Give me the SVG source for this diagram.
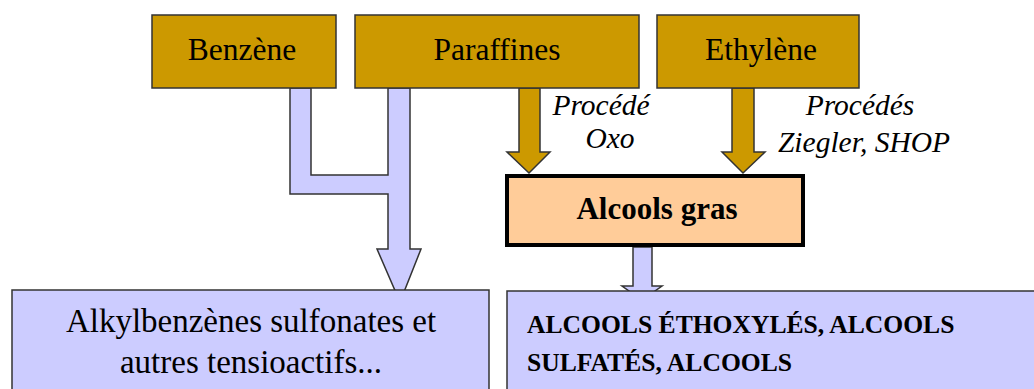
<svg xmlns="http://www.w3.org/2000/svg" width="1034" height="389" viewBox="0 0 1034 389" font-family="Liberation Serif, Times New Roman, serif">
<style>
.src{fill:#CC9900;stroke:#333;stroke-width:1.5}
.blue{fill:#CCCCFF;stroke:#333;stroke-width:1.5}
.t{fill:#000}
.r{font-size:31.5px;text-anchor:middle}
.i{font-size:29.5px;font-style:italic;text-anchor:middle}
.b{font-weight:bold}
</style>
<rect width="1034" height="389" fill="#fff"/>
<g id="connectors">
<path class="blue" d="M290,88 L311,88 L311,175 L388,175 L388,88 L410,88 L410,249 L421,249 L400,302 L377,249 L388,249 L388,194 L290,194 Z"/>
<path class="src" d="M519,88 L540,88 L540,152 L550,152 L529,173 L507,152 L519,152 Z"/>
<path class="src" d="M732,88 L754,88 L754,152 L765,152 L743,173 L722,152 L732,152 Z"/>
<path class="blue" d="M633,247 L652,247 L652,286 L662,286 L642,300 L622,286 L633,286 Z"/>
</g>
<g id="benzene"><rect class="src" x="152" y="15" width="184" height="73"/><text class="t r" x="242" y="60">Benzène</text></g>
<g id="paraffines"><rect class="src" x="355" y="15" width="284" height="73"/><text class="t r" x="497" y="60">Paraffines</text></g>
<g id="ethylene"><rect class="src" x="657" y="15" width="202" height="73"/><text class="t r" x="761" y="60">Ethylène</text></g>
<g id="label-oxo"><text class="t i" x="601" y="115">Procédé</text><text class="t i" x="610" y="148">Oxo</text></g>
<g id="label-ziegler"><text class="t i" x="860" y="115">Procédés</text><text class="t i" x="864" y="152">Ziegler, SHOP</text></g>
<g id="alcools-gras"><rect x="507" y="176" width="296" height="69" fill="#FFCC99" stroke="#000" stroke-width="4"/><text class="t b" x="657" y="219" font-size="31" text-anchor="middle">Alcools gras</text></g>
<g id="alkylbenzenes"><rect class="blue" x="12" y="290" width="477" height="110"/><text class="t" x="251" y="332" font-size="33" text-anchor="middle">Alkylbenzènes sulfonates et</text><text class="t" x="251" y="373" font-size="33" text-anchor="middle">autres tensioactifs...</text></g>
<g id="alcools-derives"><rect class="blue" x="507" y="291" width="540" height="110"/><text class="t b" x="527" y="333" font-size="25.6">ALCOOLS ÉTHOXYLÉS, ALCOOLS</text><text class="t b" x="527" y="371" font-size="25.6">SULFATÉS, ALCOOLS</text></g>
</svg>
